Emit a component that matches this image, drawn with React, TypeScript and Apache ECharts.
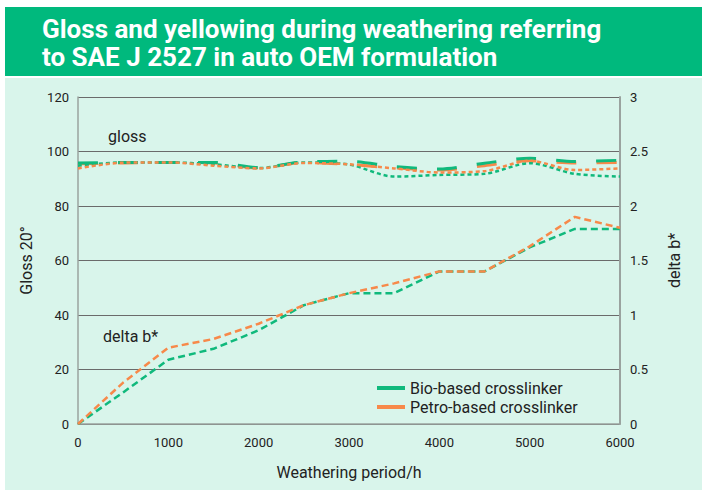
import React, { useEffect, useRef } from "react";
import * as echarts from "echarts";

const hours = [0, 500, 1000, 1500, 2000, 2500, 3000, 3500, 4000, 4500, 5000, 5500, 6000];
const glossBioDash = [95.8, 96, 96, 96, 94.1, 96.2, 96.4, 94.5, 93.6, 95.7, 97.5, 96.3, 96.8];
const glossPetroDash = [95.5, 95.8, 96, 95.8, 93.9, 96, 95.2, 94, 93.2, 94.8, 96.6, 95.8, 96];
const glossPetroDot = [93.8, 95.9, 96, 94.8, 93.8, 95.8, 95.3, 93.8, 92.3, 92.8, 96.6, 93.2, 93.8];
const glossBioDot = [94.8, 96, 96, 95.3, 93.9, 96, 95.2, 90.8, 91.4, 91.8, 95.7, 91.8, 90.8];
const deltaBio = [0, 0.29, 0.59, 0.69, 0.86, 1.09, 1.2, 1.2, 1.4, 1.4, 1.62, 1.79, 1.79];
const deltaPetro = [0, 0.38, 0.7, 0.78, 0.92, 1.09, 1.2, 1.29, 1.4, 1.4, 1.63, 1.9, 1.8];
const leftTicks = { min: 0, max: 120, interval: 20 };
const rightTicks = { min: 0, max: 3, interval: 0.5 };
const titleLines = ["Gloss and yellowing during weathering referring", "to SAE J 2527 in auto OEM formulation"];

const GREEN = "#10b97c";
const ORANGE = "#f7894a";
const FONT = "Roboto, 'Noto Sans', sans-serif";

const pair = (vals: number[]) => hours.map((h, i) => [h, vals[i]]);

export default function App() {
  const ref = useRef<HTMLDivElement>(null);
  useEffect(() => {
    document.body.style.margin = "0";
    const chart = echarts.init(ref.current!, null, { renderer: "svg" });
    const axisLabel = { color: "#222", fontSize: 13, fontFamily: FONT };
    const nameStyle = { color: "#222", fontSize: 16, fontFamily: FONT };
    chart.setOption({
      animation: false,
      backgroundColor: "#ffffff",
      textStyle: { fontFamily: FONT },
      graphic: [
        { type: "rect", z: -10, shape: { x: 5, y: 78, width: 697, height: 412 }, style: { fill: "#d9f5eb" } },
        { type: "rect", z: -10, shape: { x: 5, y: 7, width: 697, height: 69 }, style: { fill: "#00b97d" } },
        { type: "text", x: 42, y: 29, style: { text: titleLines[0], fill: "#fff", fontSize: 26, fontWeight: "bold", fontFamily: FONT, verticalAlign: "middle" } },
        { type: "text", x: 42, y: 57, style: { text: titleLines[1], fill: "#fff", fontSize: 26, fontWeight: "bold", fontFamily: FONT, verticalAlign: "middle" } },
        { type: "text", x: 108, y: 136, style: { text: "gloss", fill: "#222", fontSize: 16, fontFamily: FONT, verticalAlign: "middle" } },
        { type: "text", x: 103, y: 336, style: { text: "delta b*", fill: "#222", fontSize: 16, fontFamily: FONT, verticalAlign: "middle" } },
      ],
      grid: { left: 78, right: 82, top: 97, bottom: 68, containLabel: false },
      legend: {
        left: 372,
        top: 375,
        orient: "vertical",
        itemGap: 3,
        itemWidth: 28,
        itemHeight: 4,
        icon: "rect",
        textStyle: { color: "#222", fontSize: 16, fontFamily: FONT },
        data: ["Bio-based crosslinker", "Petro-based crosslinker"],
      },
      xAxis: {
        type: "value",
        min: 0,
        max: 6000,
        interval: 1000,
        name: "Weathering period/h",
        nameLocation: "middle",
        nameGap: 40,
        nameTextStyle: nameStyle,
        axisLine: { show: true, lineStyle: { color: "#9aa39f", width: 1.5 } },
        axisTick: { show: false },
        splitLine: { show: false },
        axisLabel: { ...axisLabel, margin: 12, formatter: (v: number) => String(v) },
      },
      yAxis: [
        {
          type: "value",
          ...leftTicks,
          name: "Gloss 20°",
          nameLocation: "middle",
          nameGap: 44,
          nameTextStyle: nameStyle,
          axisLine: { show: true, lineStyle: { color: "#9aa39f", width: 1.5 } },
          axisTick: { show: false },
          splitLine: { show: true, lineStyle: { color: "#6b6b6b", width: 1 } },
          axisLabel: { ...axisLabel, margin: 9 },
        },
        {
          type: "value",
          ...rightTicks,
          name: "delta b*",
          nameLocation: "middle",
          nameGap: 46,
          nameTextStyle: nameStyle,
          axisLine: { show: true, lineStyle: { color: "#9aa39f", width: 2 } },
          axisTick: { show: false },
          splitLine: { show: false },
          axisLabel: { ...axisLabel, margin: 10 },
        },
      ],
      series: [
        {
          name: "Petro gloss dashed",
          type: "line",
          data: pair(glossPetroDash),
          smooth: 0.3,
          showSymbol: false,
          lineStyle: { color: ORANGE, width: 3, type: [20, 20] },
          itemStyle: { color: ORANGE },
        },
        {
          name: "Bio gloss dashed",
          type: "line",
          data: pair(glossBioDash),
          smooth: 0.3,
          showSymbol: false,
          lineStyle: { color: GREEN, width: 3, type: [20, 20] },
          itemStyle: { color: GREEN },
        },
        {
          name: "Bio gloss dotted",
          type: "line",
          data: pair(glossBioDot),
          smooth: 0.3,
          showSymbol: false,
          lineStyle: { color: GREEN, width: 2.5, type: [4, 3] },
          itemStyle: { color: GREEN },
        },
        {
          name: "Petro gloss dotted",
          type: "line",
          data: pair(glossPetroDot),
          smooth: 0.3,
          showSymbol: false,
          lineStyle: { color: ORANGE, width: 2.5, type: [4, 3] },
          itemStyle: { color: ORANGE },
        },
        {
          name: "Bio-based crosslinker",
          type: "line",
          yAxisIndex: 1,
          data: pair(deltaBio),
          showSymbol: false,
          lineStyle: { color: GREEN, width: 2.5, type: [7, 4] },
          itemStyle: { color: GREEN },
        },
        {
          name: "Petro-based crosslinker",
          type: "line",
          yAxisIndex: 1,
          data: pair(deltaPetro),
          showSymbol: false,
          lineStyle: { color: ORANGE, width: 2.5, type: [7, 4] },
          itemStyle: { color: ORANGE },
        },
      ],
    });
    return () => chart.dispose();
  }, []);
  return <div ref={ref} style={{ width: 702, height: 492 }} />;
}
